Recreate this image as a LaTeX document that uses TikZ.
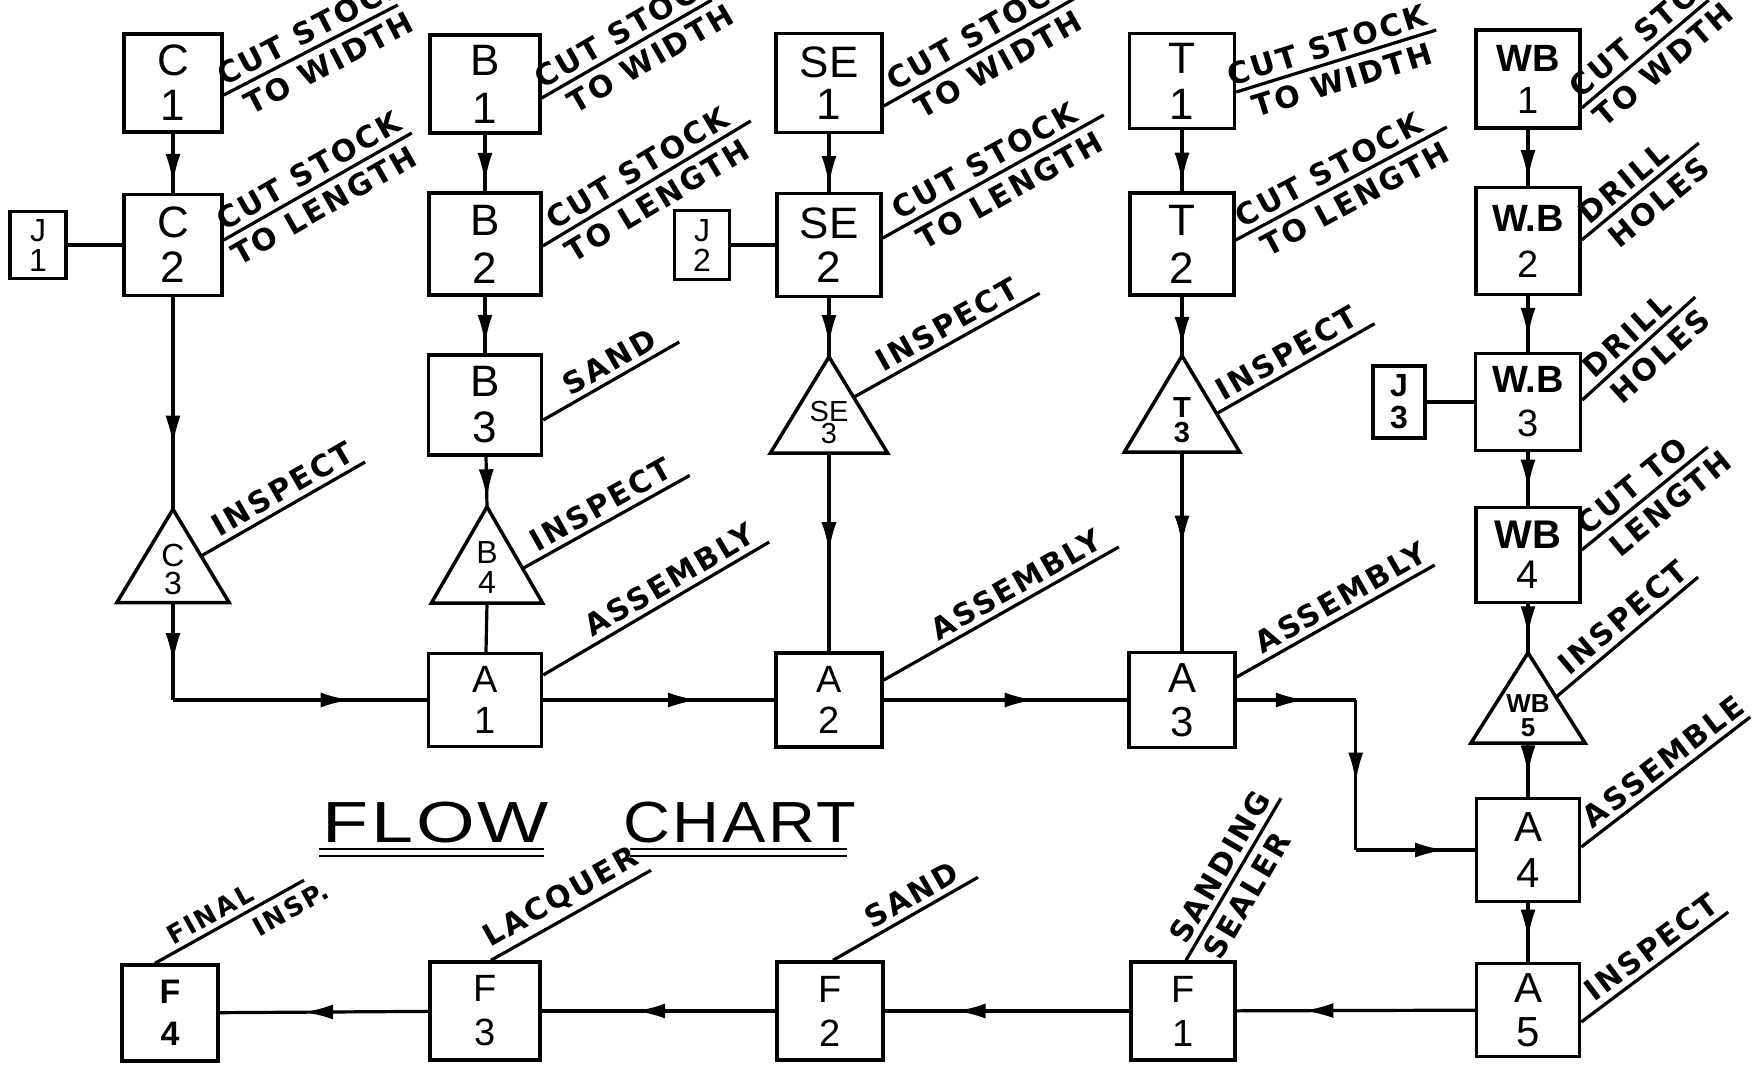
\documentclass[tikz,border=0pt]{standalone}
\usepackage{fontspec}
\setmainfont{Liberation Sans}
\newfontfamily\lblfont[LetterSpace=8]{DejaVu Sans}
\newfontfamily\ttlfont{Liberation Sans}
\usetikzlibrary{arrows.meta,decorations.markings,calc}
\newcommand{\fsz}[2]{\fontsize{#1}{#2}\selectfont}
\begin{document}
\begin{tikzpicture}[x=1pt,y=-1pt,
  box/.style={draw, line width=3.5pt, inner sep=0pt, align=center},
  trin/.style={inner sep=0pt},
  tril/.style={line width=3.5pt, line join=miter},
  tritxt/.style={inner sep=0pt, align=center},
  conn/.style={line width=3.2pt},
  lbl/.style={line width=3.2pt},
  ltop/.style={sloped, above, inner sep=5pt, font={\lblfont\bfseries\fsz{30}{32}}},
  lbot/.style={sloped, below, inner sep=7pt, font={\lblfont\bfseries\fsz{30}{32}}},
  midarrow/.style={postaction={decorate}, decoration={markings, mark=at position #1 with {\arrow{Latex[length=30pt,width=15pt]}}}},
  midarrow/.default=0.6
]
\useasboundingbox (0,0) rectangle (1753,1072);
\clip (0,0) rectangle (1753,1072);
\fill[white] (0,0) rectangle (1753,1072);

% ---------- column C ----------
\node[box, minimum width=98, minimum height=98, font=\fsz{44}{45}] (C1) at (173,83) {C\\1};
\node[box, minimum width=98, minimum height=101, font=\fsz{44}{45}] (C2) at (173,245) {C\\2};
\node[box, minimum width=56, minimum height=67, font=\fsz{32}{30}] (J1) at (38,245) {J\\1};
\node[trin, minimum width=112, minimum height=93] (C3) at (173,556) {};
\draw[tril] (C3.north) -- (C3.south east) -- (C3.south west) -- cycle;
\node[tritxt, font=\fsz{32}{28}] (C3t) at ($(C3.center)+(0,13)$) {C\\3};

% ---------- column B ----------
\node[box, minimum width=110, minimum height=98, font=\fsz{44}{48}] (B1) at (485,84) {B\\1};
\node[box, minimum width=112, minimum height=102, font=\fsz{44}{48}] (B2) at (485,244) {B\\2};
\node[box, minimum width=113, minimum height=100, font=\fsz{44}{46}] (B3) at (485,405) {B\\3};
\node[trin, minimum width=111, minimum height=96] (B4) at (487,555) {};
\draw[tril] (B4.north) -- (B4.south east) -- (B4.south west) -- cycle;
\node[tritxt, font=\fsz{32}{30}] (B4t) at ($(B4.center)+(0,12)$) {B\\4};
\node[box, minimum width=113, minimum height=93, font=\fsz{38}{41}] (A1) at (485,700) {A\\1};

% ---------- column SE ----------
\node[box, minimum width=106, minimum height=99, font=\fsz{44}{42}] (SE1) at (829,83) {SE\\1};
\node[box, minimum width=104, minimum height=103, font=\fsz{44}{44}] (SE2) at (829,245) {SE\\2};
\node[box, minimum width=55, minimum height=69, font=\fsz{32}{30}] (J2) at (702,245) {J\\2};
\node[trin, minimum width=117, minimum height=96] (SE3) at (829,405) {};
\draw[tril] (SE3.north) -- (SE3.south east) -- (SE3.south west) -- cycle;
\node[tritxt, font=\fsz{29}{22}] (SE3t) at ($(SE3.center)+(0,18)$) {SE\\3};
\node[box, minimum width=106, minimum height=94, font=\fsz{38}{41}] (A2) at (829,700) {A\\2};

% ---------- column T ----------
\node[box, minimum width=105, minimum height=95, font=\fsz{44}{46}] (T1) at (1182,81) {T\\1};
\node[box, minimum width=104, minimum height=102, font=\fsz{44}{48}] (T2) at (1182,244) {T\\2};
\node[trin, minimum width=115, minimum height=96] (T3) at (1182,404) {};
\draw[tril] (T3.north) -- (T3.south east) -- (T3.south west) -- cycle;
\node[tritxt, font={\bfseries\fsz{29}{25}}] (T3t) at ($(T3.center)+(0,16)$) {T\\3};
\node[box, minimum width=106, minimum height=95, font=\fsz{42}{44}] (A3) at (1182,700) {A\\3};

% ---------- column WB ----------
\node[box, minimum width=104, minimum height=98, font={\fsz{38}{42}}] (WB1) at (1528,79) {\textbf{WB}\\1};
\node[box, minimum width=104, minimum height=107, font={\fsz{38}{46}}] (WB2) at (1528,241) {\textbf{W.B}\\2};
\node[box, minimum width=105, minimum height=97, font={\fsz{38}{44}}] (WB3) at (1528,402) {\textbf{W.B}\\3};
\node[box, minimum width=52, minimum height=72, font={\bfseries\fsz{32}{32}}] (J3) at (1399,402) {J\\3};
\node[box, minimum width=104, minimum height=95, font={\fsz{40}{40}}] (WB4) at (1528,555) {\textbf{WB}\\4};
\node[trin, minimum width=114, minimum height=90] (WB5) at (1528,698) {};
\draw[tril] (WB5.north) -- (WB5.south east) -- (WB5.south west) -- cycle;
\node[tritxt, font={\bfseries\fsz{26}{24}}] (WB5t) at ($(WB5.center)+(0,18)$) {WB\\5};
\node[box, minimum width=103, minimum height=103, font=\fsz{42}{46}] (A4) at (1528,850) {A\\4};
\node[box, minimum width=103, minimum height=93, font=\fsz{42}{44}] (A5) at (1528,1010) {A\\5};

% ---------- bottom row ----------
\node[box, minimum width=104, minimum height=98, font=\fsz{38}{44}] (F1) at (1183,1011) {F\\1};
\node[box, minimum width=106, minimum height=98, font=\fsz{38}{44}] (F2) at (830,1011) {F\\2};
\node[box, minimum width=110, minimum height=98, font=\fsz{38}{44}] (F3) at (485,1011) {F\\3};
\node[box, minimum width=96, minimum height=96, font={\bfseries\fsz{34}{42}}] (F4) at (170,1013) {F\\4};

% ---------- title ----------
\node[inner sep=0pt, anchor=base west, xscale=1.3, font={\ttlfont\addfontfeatures{LetterSpace=4}\fsz{58}{60}}] (flow) at (322,842) {FLOW};
\node[inner sep=0pt, anchor=base west, xscale=1.12, font={\ttlfont\addfontfeatures{LetterSpace=4}\fsz{58}{60}}] (chart) at (623,842) {CHART};
\draw[line width=2.4pt] (319,849) -- (544,849) (319,856) -- (544,856);
\draw[line width=2.4pt] (630,849) -- (847,849) (630,856) -- (847,856);

% ---------- connectors ----------
\draw[conn, midarrow=.85] (C1) -- (C2);
\draw[conn] (J1) -- (C2);
\draw[conn, midarrow=.7] (C2) -- (C3.north);
\coordinate (k0) at (C3.south |- A1.west);
\draw[conn, midarrow=.62] (C3.south) -- (k0);
\draw[conn, midarrow=.7] (k0) -- (A1.west);

\draw[conn, midarrow=.85] (B1) -- (B2);
\draw[conn, midarrow=.85] (B2) -- (B3);
\draw[conn, midarrow=.85] (B3) -- (B4.north);
\draw[conn] (B4.south) -- (A1);
\draw[conn, midarrow=.67] (A1) -- (A2);

\draw[conn, midarrow=.9] (SE1) -- (SE2);
\draw[conn] (J2) -- (SE2);
\draw[conn, midarrow=.8] (SE2) -- (SE3.north);
\draw[conn, midarrow=.5] (SE3.south) -- (A2);
\draw[conn, midarrow=.62] (A2) -- (A3);

\draw[conn, midarrow=.86] (T1) -- (T2);
\draw[conn, midarrow=.85] (T2) -- (T3.north);
\draw[conn, midarrow=.47] (T3.south) -- (A3);
\coordinate (k1) at ($(A3.east)+(119,0)$);
\coordinate (k2) at (k1 |- A4.west);
\draw[conn, midarrow=.58] (A3.east) -- (k1);
\draw[conn, midarrow=.55] (k1) -- (k2);
\draw[conn, midarrow=.75] (k2) -- (A4.west);

\draw[conn, midarrow=.9] (WB1) -- (WB2);
\draw[conn, midarrow=.75] (WB2) -- (WB3);
\draw[conn] (J3) -- (WB3);
\draw[conn, midarrow=.7] (WB3) -- (WB4);
\draw[conn, midarrow=.66] (WB4) -- (WB5.north);
\draw[conn, midarrow=.6] (WB5.south) -- (A4);
\draw[conn, midarrow=.62] (A4) -- (A5);

\draw[conn, midarrow=.72] (A5) -- (F1);
\draw[conn, midarrow=.71] (F1) -- (F2);
\draw[conn, midarrow=.6] (F2) -- (F3);
\draw[conn, midarrow=.6] (F3) -- (F4);

% ---------- operation labels ----------
\draw[lbl] ($(C1.east)+(0,12)$) -- ++(174,-90) node[ltop,pos=.55] (lC1a) {CUT STOCK} node[lbot,pos=.55] (lC1b) {TO WIDTH};
\draw[lbl] ($(C2.east)+(0,-5)$) -- ++(188,-107) node[ltop,pos=.5] (lC2a) {CUT STOCK} node[lbot,pos=.48] (lC2b) {TO LENGTH};
\draw[lbl] ($(C3.north)!0.5!(C3.south east)$) -- ++(164,-94) node[ltop,pos=.55] (lC3) {INSPECT};

\draw[lbl] ($(B1.east)+(0,14)$) -- ++(170,-98) node[ltop,pos=.55] (lB1a) {CUT STOCK} node[lbot,pos=.58] (lB1b) {TO WIDTH};
\draw[lbl] ($(B2.east)+(0,2)$) -- ++(208,-125) node[ltop,pos=.5] (lB2a) {CUT STOCK} node[lbot,pos=.5] (lB2b) {TO LENGTH};
\draw[lbl] ($(B3.east)+(0,15)$) -- ++(136,-78) node[ltop,pos=.55] (lB3) {SAND};
\draw[lbl] ($(B4.north)!0.64!(B4.south east)$) -- ++(167,-93) node[ltop,pos=.52] (lB4) {INSPECT};
\draw[lbl] ($(A1.east)+(0,-25)$) -- ++(226,-133) node[ltop,pos=.6] (lA1) {ASSEMBLY};

\draw[lbl] ($(SE1.east)+(0,23)$) -- ++(190,-107) node[ltop,pos=.55] (lSE1a) {CUT STOCK} node[lbot,pos=.55] (lSE1b) {TO WIDTH};
\draw[lbl] ($(SE2.east)+(0,-7)$) -- ++(221,-123) node[ltop,pos=.5] (lSE2a) {CUT STOCK} node[lbot,pos=.53] (lSE2b) {TO LENGTH};
\draw[lbl] ($(SE3.north)!0.42!(SE3.south east)$) -- ++(186,-104) node[ltop,pos=.55] (lSE3) {INSPECT};
\draw[lbl] ($(A2.east)+(0,-20)$) -- ++(235,-133) node[ltop,pos=.6] (lA2) {ASSEMBLY};

\draw[lbl] ($(T1.east)+(0,11)$) -- ++(200,-62) node[ltop,pos=.48] (lT1a) {CUT STOCK} node[lbot,pos=.5] (lT1b) {TO WIDTH};
\draw[lbl] ($(T2.east)+(0,-4)$) -- ++(211,-113) node[ltop,pos=.48] (lT2a) {CUT STOCK} node[lbot,pos=.52] (lT2b) {TO LENGTH};
\draw[lbl] ($(T3.north)!0.6!(T3.south east)$) -- ++(158,-90) node[ltop,pos=.5] (lT3) {INSPECT};
\draw[lbl] ($(A3.east)+(0,-23)$) -- ++(198,-112) node[ltop,pos=.57] (lA3) {ASSEMBLY};

\draw[lbl] ($(WB1.east)+(0,29)$) -- ++(127,-108) node[ltop,pos=.65] (lWB1a) {CUT STOCK} node[lbot,pos=.54] (lWB1b) {TO WDTH};
\draw[lbl] ($(WB2.east)+(0,-1)$) -- ++(117,-97) node[ltop,pos=.45] (lWB2a) {DRILL} node[lbot,pos=.55] (lWB2b) {HOLES};
\draw[lbl] ($(WB3.east)+(0,-2)$) -- ++(113,-103) node[ltop,pos=.5] (lWB3a) {DRILL} node[lbot,pos=.57] (lWB3b) {HOLES};
\draw[lbl] ($(WB4.east)+(0,-5)$) -- ++(126,-103) node[ltop,pos=.49] (lWB4a) {CUT TO} node[lbot,pos=.6] (lWB4b) {LENGTH};
\draw[lbl] ($(WB5.north)!0.49!(WB5.south east)$) -- ++(142,-120) node[ltop,pos=.55] (lWB5) {INSPECT};
\draw[lbl] ($(A4.east)+(0,-3)$) -- ++(169,-130) node[ltop,pos=.55] (lA4) {ASSEMBLE};
\draw[lbl] ($(A5.east)+(0,12)$) -- ++(147,-110) node[ltop,pos=.55] (lA5) {INSPECT};

\draw[lbl] ($(F1.north)+(3,0)$) -- ++(95,-162) node[ltop,pos=.52] (lF1a) {SANDING} node[lbot,pos=.46] (lF1b) {SEALER};
\draw[lbl] ($(F2.north)+(3,0)$) -- ++(145,-83) node[ltop,pos=.6] (lF2) {SAND};
\draw[lbl] ($(F3.north)+(6,0)$) -- ++(160,-90) node[ltop,pos=.5] (lF3) {LACQUER};
\draw[lbl] ($(F4.north)+(-15,0)$) -- ++(149,-83) node[ltop,pos=.42,font={\lblfont\bfseries\fsz{26}{26}}] (lF4a) {FINAL} node[lbot,pos=.85,font={\lblfont\bfseries\fsz{26}{26}}] (lF4b) {INSP.};
\end{tikzpicture}
\end{document}
